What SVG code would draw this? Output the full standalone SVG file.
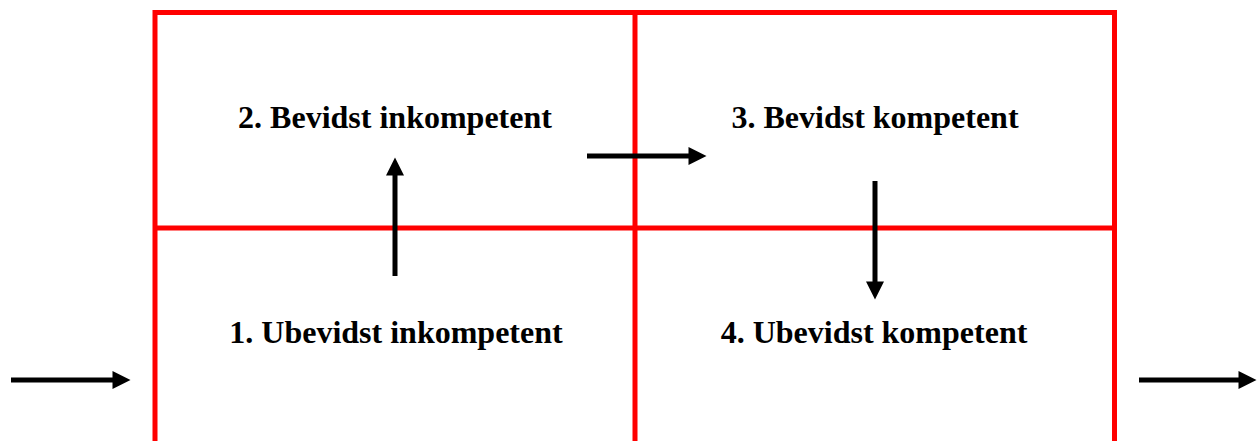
<svg xmlns="http://www.w3.org/2000/svg" width="1257" height="441" viewBox="0 0 1257 441">
<style>
.grid{stroke:#ff0000;stroke-width:5;fill:none}
.arr{stroke:#000;stroke-width:5;fill:none}
.lbl{font-family:"Liberation Serif","Times New Roman",serif;font-weight:bold;font-size:32px;fill:#000;text-anchor:middle}
</style>
<defs>
<marker id="ah" markerUnits="userSpaceOnUse" markerWidth="18" markerHeight="18" refX="0.5" refY="9" orient="auto" overflow="visible">
<path d="M0,0 L18,9 L0,18 Z" fill="#000"/>
</marker>
</defs>
<rect width="1257" height="441" fill="#fff"/>
<g id="grid">
<line class="grid" x1="153" y1="12.5" x2="1117" y2="12.5"/>
<line class="grid" x1="153" y1="228" x2="1117" y2="228"/>
<line class="grid" x1="155" y1="10" x2="155" y2="441"/>
<line class="grid" x1="635" y1="10" x2="635" y2="441"/>
<line class="grid" x1="1114.5" y1="10" x2="1114.5" y2="441"/>
</g>
<g id="n2"><text class="lbl" x="395" y="128">2. Bevidst inkompetent</text></g>
<g id="n3"><text class="lbl" x="875" y="128">3. Bevidst kompetent</text></g>
<g id="n1"><text class="lbl" x="396" y="343">1. Ubevidst inkompetent</text></g>
<g id="n4"><text class="lbl" x="874" y="343">4. Ubevidst kompetent</text></g>
<g id="connectors">
<line class="arr" x1="395" y1="276" x2="395" y2="175" marker-end="url(#ah)"/>
<line class="arr" x1="587" y1="156" x2="689" y2="156" marker-end="url(#ah)"/>
<line class="arr" x1="875" y1="181" x2="875" y2="282" marker-end="url(#ah)"/>
<line class="arr" x1="11" y1="380" x2="113" y2="380" marker-end="url(#ah)"/>
<line class="arr" x1="1139" y1="380" x2="1239" y2="380" marker-end="url(#ah)"/>
</g>
</svg>
